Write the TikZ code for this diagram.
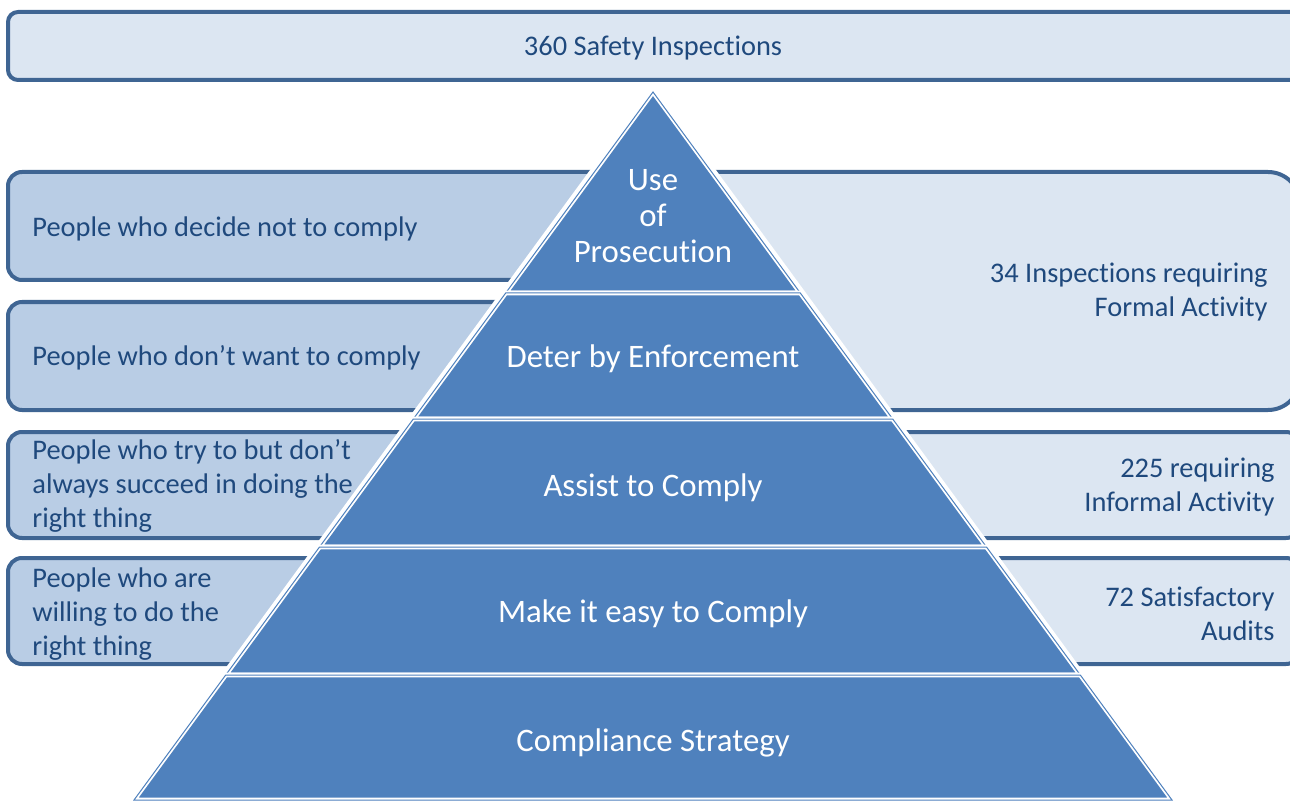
\documentclass[tikz,border=0pt]{standalone}
\usepackage{fontspec}
\setmainfont{Carlito}[Ligatures=NoCommon]
\definecolor{pyrblue}{HTML}{4F81BD}
\definecolor{edgeblue}{HTML}{3F6593}
\definecolor{darkfill}{HTML}{B9CDE5}
\definecolor{lightfill}{HTML}{DCE6F2}
\definecolor{textblue}{HTML}{1F497D}
\tikzset{
  sidebox/.style={draw=edgeblue, line width=2pt, rounded corners=7pt},
  layer/.style={fill=pyrblue, draw=white, double=pyrblue, double distance=0.5pt, line width=0.9pt},
  pyrtext/.style={text=white, font=\fontsize{16.4}{18}\selectfont, align=center},
  sidetext/.style={text=textblue, font=\fontsize{14.2}{17}\selectfont, inner sep=0pt}
}
\begin{document}
\begin{tikzpicture}[x=0.5pt, y=-0.5pt]
  \useasboundingbox (0,0) rectangle (1290,802);
  % top box
  \draw[sidebox, fill=lightfill, rounded corners=5pt] (8,12) rectangle (1300,80);
  \node[sidetext] (inspections) at (653,48) {360 Safety Inspections};
  % right boxes
  \draw[sidebox, fill=lightfill, rounded corners=16pt] (653,172) rectangle (1300,410);
  \draw[sidebox, fill=lightfill] (653,432) rectangle (1300,538);
  \draw[sidebox, fill=lightfill] (653,558) rectangle (1300,664);
  % left boxes
  \draw[sidebox, fill=darkfill] (8,172) rectangle (653,280);
  \draw[sidebox, fill=darkfill] (8,302) rectangle (653,410);
  \draw[sidebox, fill=darkfill] (8,432) rectangle (653,538);
  \draw[sidebox, fill=darkfill] (8,558) rectangle (653,664);
  % pyramid
  \fill[white] (653,84) -- (1180,804) -- (126,804) -- cycle;
  \draw[layer] (653,92) -- (800.3,293) -- (505.7,293) -- cycle;
  \draw[layer] (505.7,293) -- (800.3,293) -- (892.7,419) -- (413.3,419) -- cycle;
  \draw[layer] (413.3,419) -- (892.7,419) -- (986.5,547) -- (319.5,547) -- cycle;
  \draw[layer] (319.5,547) -- (986.5,547) -- (1080.3,675) -- (225.7,675) -- cycle;
  \draw[layer] (225.7,675) -- (1080.3,675) -- (1172,800) -- (134,800) -- cycle;
  % pyramid labels
  \node[pyrtext] (prosecution) at (653,216) {Use\\of\\Prosecution};
  \node[pyrtext] (deter) at (653,359) {Deter by Enforcement};
  \node[pyrtext] (assist) at (653,488) {Assist to Comply};
  \node[pyrtext] (easy) at (653,614) {Make it easy to Comply};
  \node[pyrtext] (strategy) at (653,743) {Compliance Strategy};
  % left labels
  \node[sidetext, anchor=west] (decide) at (32,229) {People who decide not to comply};
  \node[sidetext, anchor=west] (dontwant) at (32,358) {People who don’t want to comply};
  \node[sidetext, anchor=west, align=left] (try) at (32,486) {People who try to but don’t\\always succeed in doing the\\right thing};
  \node[sidetext, anchor=west, align=left] (willing) at (32,614) {People who are\\willing to do the\\right thing};
  % right labels
  \node[sidetext, anchor=east, align=right] (formal) at (1268,292) {34 Inspections requiring\\Formal Activity};
  \node[sidetext, anchor=east, align=right] (informal) at (1275,487) {225 requiring\\Informal Activity};
  \node[sidetext, anchor=east, align=right] (audits) at (1275,614) {72 Satisfactory\\Audits};
\end{tikzpicture}
\end{document}
